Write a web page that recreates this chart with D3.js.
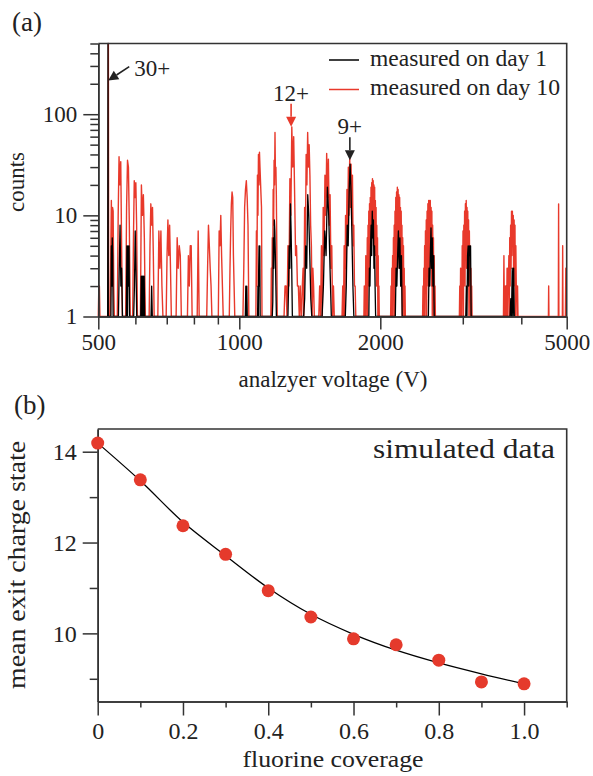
<!DOCTYPE html>
<html><head><meta charset="utf-8">
<script src="https://cdn.jsdelivr.net/npm/d3@7"></script>
<style>body{margin:0;background:#fff}svg{display:block}text{font-family:"Liberation Serif","DejaVu Serif",serif;fill:#222}</style>
</head><body><svg id="c" width="593" height="776"></svg>
<script>
// ---------- Panel (a) data: spectrum peaks (voltage range from..to, counts per channel) ----------
const redPeaks = [
  {from:500, to:504, counts:[0,2,2,0]},
  {from:524.6, to:526.2, counts:[0,900,0]},
  {from:530, to:541, counts:[0,4,14,3,12,11,2,0]},
  {from:549, to:563, counts:[0,10,38,20,34,5,0]},
  {from:572, to:585, counts:[0,12,35,30,8,0]},
  {from:592, to:606, counts:[0,6,22,15,21,8,0]},
  {from:615, to:630, counts:[0,20,10,16,6,0]},
  {from:642, to:658, counts:[0,5,13,8,12,4,0]},
  {from:670, to:687, counts:[0,7,3,7,2,0]},
  {from:698, to:716, counts:[0,4,9,4,8,3,0]},
  {from:733, to:752, counts:[0,6,3,5,4,0]},
  {from:775, to:793, counts:[0,4,2,5,5,0]},
  {from:813, to:821, counts:[0,7,0]},
  {from:852, to:874, counts:[0,3,8,5,3,2,0]},
  {from:902, to:924, counts:[0,7,5,10,4,2,0]},
  {from:952, to:978, counts:[0,3,7,13,17,15,4,2,0]},
  {from:1018, to:1048, counts:[0,3,12,18,22,15,8,0]},
  {from:1085, to:1118, counts:[0,7,2,25,10,40,20,42,30,22,16,12,0]},
  {from:1168, to:1205, counts:[0,3,1,6,3,18,8,35,20,66,25,30,16,5,0]},
  {from:1246, to:1355, counts:[0,2,2,0,5,2,23,10,75,30,60,16,4,5,2,2,0,2,0]},
  {from:1358, to:1446, counts:[0,2,3,1,12,5,40,20,66,30,50,25,8,5,1,3,2,0]},
  {from:1478, to:1595, counts:[0,2,0,5,1,12,4,25,10,41,15,36,8,16,3,5,1,2,0]},
  {from:1657, to:1773, counts:[0,2,0,5,1,10,3,18,6,30,10,38,12,32,8,25,5,8,2,2,0]},
  {from:1845, to:1990, counts:[0,2,0,2,1,4,0,4,2,6,1,8,3,11,2,13,5,15,4,19,8,21,6,23,9,22,5,20,10,19,4,14,6,12,2,8,3,6,1,4,0,2,0]},
  {from:2104, to:2262, counts:[0,2,0,3,1,4,0,6,2,8,1,11,3,15,2,17,5,19,4,18,7,16,3,15,6,12,2,11,4,8,1,6,2,5,0,3,1,2,0]},
  {from:2462, to:2622, counts:[0,2,0,3,1,5,0,7,2,9,1,11,3,13,2,14,4,14,3,14,5,12,2,11,1,8,3,6,0,4,1,2,0]},
  {from:2950, to:3140, counts:[0,2,0,3,1,3,0,5,2,7,1,8,3,11,2,13,4,14,3,12,5,11,2,9,1,7,3,5,0,3,1,2,0]},
  {from:3664, to:3935, counts:[0,4,0,0,2,0,2,1,3,0,3,2,4,1,6,2,8,3,11,4,11,5,10,2,9,3,8,1,5,2,2,0,2,0]},
  {from:4570, to:4582, counts:[0,2,0]},
  {from:4798, to:4812, counts:[0,13,0]},
  {from:4895, to:4909, counts:[0,5,0]},
  {from:4968, to:5000, counts:[0,3,3,3]}
];
const blackPeaks = [
  {from:523.6, to:525.2, counts:[0,700,0]},
  {from:532, to:539, counts:[0,5,2,6,4,1,0]},
  {from:552, to:563, counts:[0,3,8,2,3,0]},
  {from:574, to:583, counts:[0,5,1,5,2,5,0]},
  {from:595, to:604, counts:[0,2,7,3,0]},
  {from:616, to:628, counts:[0,2.5,1,2.5,1,2.5,1,2.5,0]},
  {from:648, to:652, counts:[0,2,0]},
  {from:1030, to:1040, counts:[0,2,1,2,0]},
  {from:1094, to:1110, counts:[0,2,1,3,5,2,5,1,0]},
  {from:1176, to:1200, counts:[0,1.4,6,3,9,7,4,2,0]},
  {from:1270, to:1298, counts:[0,2,5,3,13,7,3,0]},
  {from:1372, to:1428, counts:[0,1.5,5,3,16,10,4,1.5,0]},
  {from:1502, to:1572, counts:[0,2,7,4,19,10,3,0]},
  {from:1684, to:1756, counts:[0,2,8,5,17,32,17,6,2,0]},
  {from:1885, to:1960, counts:[0,1,3,2,5,8,4,11,6,9,3,5,2,1,0]},
  {from:2145, to:2235, counts:[0,1,3,2,4,7,3,6,2,4,1,0]},
  {from:2525, to:2615, counts:[0,1,3,2,4,7.5,3,6,2,4,1,0]},
  {from:3035, to:3135, counts:[0,1,2,1,4,5,2,5,4,5,1,0]},
  {from:3785, to:3865, counts:[0,1.5,1,3,1,3,0]}
];
const xMajorA = [500, 1000, 2000, 5000];
const xMinorA = [600, 700, 800, 900, 3000, 4000];
const yMajorA = [1, 10, 100];
const yMinorA = [2,3,4,5,6,7,8,9,20,30,40,50,60,70,80,90,200,300,400,500];
const seriesNames = ["measured on day 1", "measured on day 10"];
const annotations = [
  {label:"30+", v:525, c:215, color:"#222"},
  {label:"12+", v:1290, c:75, color:"#e8392b"},
  {label:"9+", v:1722, c:35, color:"#222"}
];

// ---------- Panel (b) data ----------
const coverage = [0,0.1,0.2,0.3,0.4,0.5,0.6,0.7,0.8,0.9,1.0];
const chargeState = [14.19,13.38,12.37,11.74,10.94,10.36,9.88,9.75,9.41,8.93,8.89];
const fitCoverage = [0,0.1,0.2,0.3,0.4,0.5,0.6,0.7,0.8,0.9,1.0];
const fitCharge = [14.19,13.36,12.45,11.71,11.0,10.42,9.98,9.63,9.35,9.11,8.89];
const xMajorB = [0,0.2,0.4,0.6,0.8,1.0];
const xMinorB = [0.1,0.3,0.5,0.7,0.9,1.1];
const yMajorB = [10,12,14];
const yMinorB = [9,11,13];

// ---------- drawing ----------
const RED = "#e8392b", AX = "#333";
const FONT = '"Liberation Serif","DejaVu Serif",serif';
const FSA = 23, FSB = 24;
const svg = d3.select("#c");

// Panel (a)
const xA = d3.scaleLog().domain([500,5000]).range([98.3,566.7]);
const yA = d3.scaleLog().domain([1,500]).range([316.5,43.5]).clamp(true);
const gA = svg.append("g");

function pts(peaks){const out=[];peaks.forEach(p=>{const n=p.counts.length;p.counts.forEach((c,i)=>out.push([p.from+(p.to-p.from)*i/(n-1),c]));});return out;}
const lineA = d3.line().x(d=>xA(d[0])).y(d=>yA(Math.max(d[1],1)));
gA.append("path").attr("d",lineA(pts(redPeaks))).attr("fill","none").attr("stroke",RED).attr("stroke-width",1.4).attr("stroke-linejoin","round");
gA.append("path").attr("d",lineA(pts(blackPeaks))).attr("fill","none").attr("stroke","#000").attr("stroke-width",1.3).attr("stroke-linejoin","round");

function styleAxis(fs){return g=>{g.selectAll("line").attr("stroke",AX).attr("stroke-width",1.5);g.selectAll("path.domain").attr("stroke",AX).attr("stroke-width",1.6);g.selectAll("text").attr("font-family",FONT).attr("font-size",fs).attr("fill","#222");};}
const fmtA = d3.format("d");
gA.append("g").attr("transform","translate(0,316.5)").call(d3.axisBottom(xA).tickValues(xMinorA).tickSize(8).tickSizeOuter(0).tickFormat("")).call(styleAxis(FSA));
gA.append("g").attr("transform","translate(0,316.5)").call(d3.axisBottom(xA).tickValues(xMajorA).tickSize(13).tickSizeOuter(0).tickPadding(4).tickFormat(fmtA)).call(styleAxis(FSA));
gA.append("g").attr("transform","translate(98.3,0)").call(d3.axisLeft(yA).tickValues(yMinorA).tickSize(8).tickSizeOuter(0).tickFormat("")).call(styleAxis(FSA));
gA.append("g").attr("transform","translate(98.3,0)").call(d3.axisLeft(yA).tickValues(yMajorA).tickSize(15).tickSizeOuter(0).tickPadding(6).tickFormat(fmtA)).call(styleAxis(FSA));
gA.append("path").attr("d",`M${xA(500)},${yA(500)}H${xA(5000)}V${yA(1)}`).attr("fill","none").attr("stroke",AX).attr("stroke-width",1.6);

// legend
const legY=[60,89.5];
seriesNames.forEach((s,i)=>{
  gA.append("line").attr("x1",329).attr("x2",359).attr("y1",legY[i]).attr("y2",legY[i]).attr("stroke",i?RED:"#000").attr("stroke-width",1.5);
  gA.append("text").attr("x",370).attr("y",legY[i]+5.5).attr("font-size",23).attr("textLength",i?190:177).attr("lengthAdjust","spacingAndGlyphs").text(s);
});

// annotations
function arrow(x1,y1,x2,y2,color){
  const a=Math.atan2(y2-y1,x2-x1), L=10, Wd=5;
  const bx=x2-L*Math.cos(a), by=y2-L*Math.sin(a);
  gA.append("line").attr("x1",x1).attr("y1",y1).attr("x2",bx).attr("y2",by).attr("stroke",color).attr("stroke-width",1.6);
  gA.append("path").attr("d",`M${x2},${y2}L${bx+Wd*Math.sin(a)},${by-Wd*Math.cos(a)}L${bx-Wd*Math.sin(a)},${by+Wd*Math.cos(a)}Z`).attr("fill",color);
}
{
  const a=annotations[0], tx=xA(a.v), ty=yA(a.c);
  arrow(tx+21,ty-14,tx,ty,a.color);
  gA.append("text").attr("x",tx+26).attr("y",ty-5).attr("font-size",FSA).attr("fill",a.color).text(a.label);
}
[annotations[1],annotations[2]].forEach(a=>{
  const tx=xA(a.v), ty=yA(a.c);
  arrow(tx,ty-23,tx,ty,a.color);
  gA.append("text").attr("x",tx).attr("y",ty-26).attr("text-anchor","middle").attr("font-size",FSA).attr("fill",a.color).text(a.label);
});

svg.append("text").attr("x",12).attr("y",31).attr("font-size",27).text("(a)");
svg.append("text").attr("transform","translate(24,182) rotate(-90)").attr("text-anchor","middle").attr("font-size",FSA).text("counts");
svg.append("text").attr("x",333).attr("y",387).attr("text-anchor","middle").attr("font-size",FSA).text("analzyer voltage (V)");

// Panel (b)
const xB = d3.scaleLinear().domain([0,1.1]).range([97.7,566.7]);
const yB = d3.scaleLinear().domain([8.5,14.5]).range([701.5,429]);
const gB = svg.append("g");
gB.append("g").attr("transform","translate(0,701.5)").call(d3.axisBottom(xB).tickValues(xMinorB).tickSize(6).tickSizeOuter(0).tickFormat("")).call(styleAxis(FSB));
gB.append("g").attr("transform","translate(0,701.5)").call(d3.axisBottom(xB).tickValues(xMajorB).tickSize(14).tickSizeOuter(0).tickPadding(6).tickFormat(d=>d===0?"0":d3.format(".1f")(d))).call(styleAxis(FSB));
gB.append("g").attr("transform","translate(97.7,0)").call(d3.axisLeft(yB).tickValues(yMinorB).tickSize(8).tickSizeOuter(0).tickFormat("")).call(styleAxis(FSB));
gB.append("g").attr("transform","translate(97.7,0)").call(d3.axisLeft(yB).tickValues(yMajorB).tickSize(15).tickSizeOuter(0).tickPadding(6).tickFormat(d3.format("d"))).call(styleAxis(FSB));
gB.append("path").attr("d",`M${xB(0)},${yB(14.5)}H${xB(1.1)}V${yB(8.5)}`).attr("fill","none").attr("stroke",AX).attr("stroke-width",1.6);

const fitLine = d3.line().x((d,i)=>xB(fitCoverage[i])).y(d=>yB(d)).curve(d3.curveMonotoneX);
gB.append("path").attr("d",fitLine(fitCharge)).attr("fill","none").attr("stroke","#000").attr("stroke-width",1.3);
gB.selectAll("circle").data(chargeState).join("circle").attr("cx",(d,i)=>xB(coverage[i])).attr("cy",d=>yB(d)).attr("r",6.5).attr("fill","#e53a2c");

gB.append("text").attr("x",555).attr("y",458).attr("text-anchor","end").attr("font-size",27).attr("textLength",182).attr("lengthAdjust","spacingAndGlyphs").text("simulated data");
svg.append("text").attr("x",14).attr("y",414).attr("font-size",27).text("(b)");
svg.append("text").attr("transform","translate(25,565) rotate(-90)").attr("text-anchor","middle").attr("font-size",26).attr("textLength",248).attr("lengthAdjust","spacingAndGlyphs").text("mean exit charge state");
svg.append("text").attr("x",333).attr("y",767).attr("text-anchor","middle").attr("font-size",24).attr("textLength",181).attr("lengthAdjust","spacingAndGlyphs").text("fluorine coverage");
</script></body></html>
